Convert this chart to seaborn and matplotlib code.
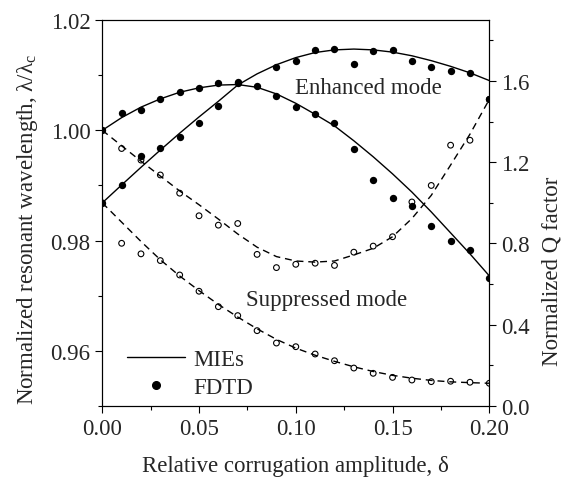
import numpy as np
import pandas as pd
import matplotlib
matplotlib.use("Agg")
import matplotlib.pyplot as plt
import seaborn as sns
from matplotlib.lines import Line2D
from matplotlib.ticker import MultipleLocator, FormatStrFormatter

# ---------------- data ----------------
delta = [0.00, 0.01, 0.02, 0.03, 0.04, 0.05, 0.06, 0.07, 0.08, 0.09, 0.10,
         0.11, 0.12, 0.13, 0.14, 0.15, 0.16, 0.17, 0.18, 0.19, 0.20]

# Enhanced mode, normalized wavelength (left axis)
enh_wl_fdtd = [1.0000, 1.0032, 1.0036, 1.0057, 1.0070, 1.0076, 1.0085, 1.0086, 1.0080, 1.0062, 1.0042,
               1.0029, 1.0014, 0.9966, 0.9910, 0.9878, 0.9863, 0.9827, 0.9799, 0.9783, 0.9733]
enh_wl_mie = [1.0000, 1.0023, 1.0042, 1.0057, 1.0069, 1.0077, 1.0082, 1.0083, 1.0078, 1.0066, 1.0049,
              1.0029, 1.0008, 0.9981, 0.9952, 0.9921, 0.9888, 0.9852, 0.9814, 0.9776, 0.9736]

# Suppressed mode, normalized wavelength (left axis)
sup_wl_fdtd = [1.0000, 0.9967, 0.9946, 0.9919, 0.9886, 0.9845, 0.9828, 0.9831, 0.9775, 0.9751, 0.9757,
               0.9759, 0.9755, 0.9779, 0.9790, 0.9807, 0.9870, 0.9900, 0.9973, 0.9982, 1.0056]
sup_wl_mie = [1.0000, 0.9972, 0.9944, 0.9917, 0.9890, 0.9865, 0.9839, 0.9812, 0.9788, 0.9771, 0.9763,
              0.9761, 0.9763, 0.9774, 0.9786, 0.9807, 0.9840, 0.9882, 0.9937, 0.9993, 1.0056]

# Enhanced mode, normalized Q factor (right axis)
enh_q_fdtd = [1.000, 1.089, 1.230, 1.269, 1.324, 1.394, 1.476, 1.595, np.nan, 1.671, 1.698,
              1.750, 1.759, 1.685, 1.747, 1.754, 1.696, 1.668, 1.647, 1.639, 1.512]
enh_q_mie = [1.000, 1.088, 1.175, 1.260, 1.343, 1.423, 1.500, 1.580, 1.635, 1.680, 1.715,
             1.740, 1.753, 1.757, 1.753, 1.742, 1.724, 1.700, 1.672, 1.640, 1.602]

# Suppressed mode, normalized Q factor (right axis)
sup_q_fdtd = [1.000, 0.801, 0.749, 0.716, 0.645, 0.565, 0.489, 0.445, 0.371, 0.310, 0.292,
              0.256, 0.223, 0.187, 0.161, 0.141, 0.128, 0.120, 0.122, 0.117, 0.112]
sup_q_mie = [1.000, 0.905, 0.810, 0.720, 0.640, 0.568, 0.500, 0.438, 0.380, 0.328, 0.285,
             0.250, 0.220, 0.193, 0.170, 0.151, 0.137, 0.126, 0.119, 0.115, 0.112]

x_ticks = [0.00, 0.05, 0.10, 0.15, 0.20]
left_ticks = [0.96, 0.98, 1.00, 1.02]
right_ticks = [0.0, 0.4, 0.8, 1.2, 1.6]

# ---------------- style ----------------
sns.set_style("ticks")
plt.rcParams["font.family"] = ["Liberation Serif", "DejaVu Serif"]
plt.rcParams["mathtext.fontset"] = "custom"
plt.rcParams["mathtext.rm"] = "Liberation Serif"
plt.rcParams["mathtext.it"] = "Liberation Serif:italic"
FS = 16.5

fig = plt.figure(figsize=(5.66, 4.81), dpi=100)
ax = fig.add_axes([0.1807, 0.1538, 0.6838, 0.8025])
ax2 = ax.twinx()

solid_kw = dict(color="black", linewidth=1.0)
dash_kw = dict(color="black", linewidth=1.0, linestyle=(0, (5, 3.5)))

# lines (MIEs)
sns.lineplot(x=delta, y=enh_wl_mie, ax=ax, **solid_kw)
sns.lineplot(x=delta, y=sup_wl_mie, ax=ax, **dash_kw)
sns.lineplot(x=delta, y=enh_q_mie, ax=ax2, **solid_kw)
sns.lineplot(x=delta, y=sup_q_mie, ax=ax2, **dash_kw)

# open circles (suppressed, FDTD)
for a, yv in ((ax, sup_wl_fdtd), (ax2, sup_q_fdtd)):
    sns.scatterplot(x=delta, y=yv, ax=a, s=17, marker="o", color="black", linewidth=0.8, zorder=3)
    coll = a.collections[-1]
    coll.set_facecolor("none")
    coll.set_edgecolor("black")

# filled dots (enhanced, FDTD)
sns.scatterplot(x=delta, y=enh_wl_fdtd, ax=ax, s=28, color="black", linewidth=0, zorder=4)
sns.scatterplot(x=delta, y=enh_q_fdtd, ax=ax2, s=28, color="black", linewidth=0, zorder=4)

# ---------------- axes ----------------
ax.set_xlim(0, 0.2)
ax.set_ylim(0.95, 1.02)
ax2.set_ylim(0.0, 1.9)

ax.set_xticks(x_ticks)
ax.xaxis.set_minor_locator(MultipleLocator(0.025))
ax.xaxis.set_major_formatter(FormatStrFormatter("%.2f"))
ax.set_yticks(left_ticks)
ax.yaxis.set_minor_locator(MultipleLocator(0.01))
ax.yaxis.set_major_formatter(FormatStrFormatter("%.2f"))
ax2.set_yticks(right_ticks)
ax2.yaxis.set_minor_locator(MultipleLocator(0.2))
ax2.yaxis.set_major_formatter(FormatStrFormatter("%.1f"))

for a in (ax, ax2):
    a.tick_params(which="major", direction="out", length=5, width=0.8, labelsize=FS, color="black")
    a.tick_params(which="minor", direction="out", length=3, width=0.8, color="black")
    for sp in a.spines.values():
        sp.set_visible(True)
        sp.set_color("black")
        sp.set_linewidth(0.8)

ax.set_xlabel("Relative corrugation amplitude, δ", fontsize=FS, labelpad=12)
ax.set_ylabel(r"Normalized resonant wavelength, λ/λ$\mathregular{_c}$", fontsize=FS)
ax2.set_ylabel("Normalized Q factor", fontsize=FS)
ax.yaxis.set_label_coords(-0.16, 0.459)
ax2.yaxis.set_label_coords(1.135, 0.352)

ax.text(0.1377, 1.0077, "Enhanced mode", fontsize=FS, ha="center", va="center")
ax.text(0.116, 0.9694, "Suppressed mode", fontsize=FS, ha="center", va="center")

handles = [Line2D([], [], color="black", linewidth=1.0),
           Line2D([], [], color="black", linestyle="none", marker="o", markersize=5.5)]
ax.legend(handles, ["MIEs", "FDTD"], loc="lower left", bbox_to_anchor=(0.063, 0.02),
          frameon=False, fontsize=FS, handlelength=2.55, handletextpad=0.35,
          labelspacing=0.3, borderpad=0, borderaxespad=0)

fig.savefig("out.png", dpi=100)
